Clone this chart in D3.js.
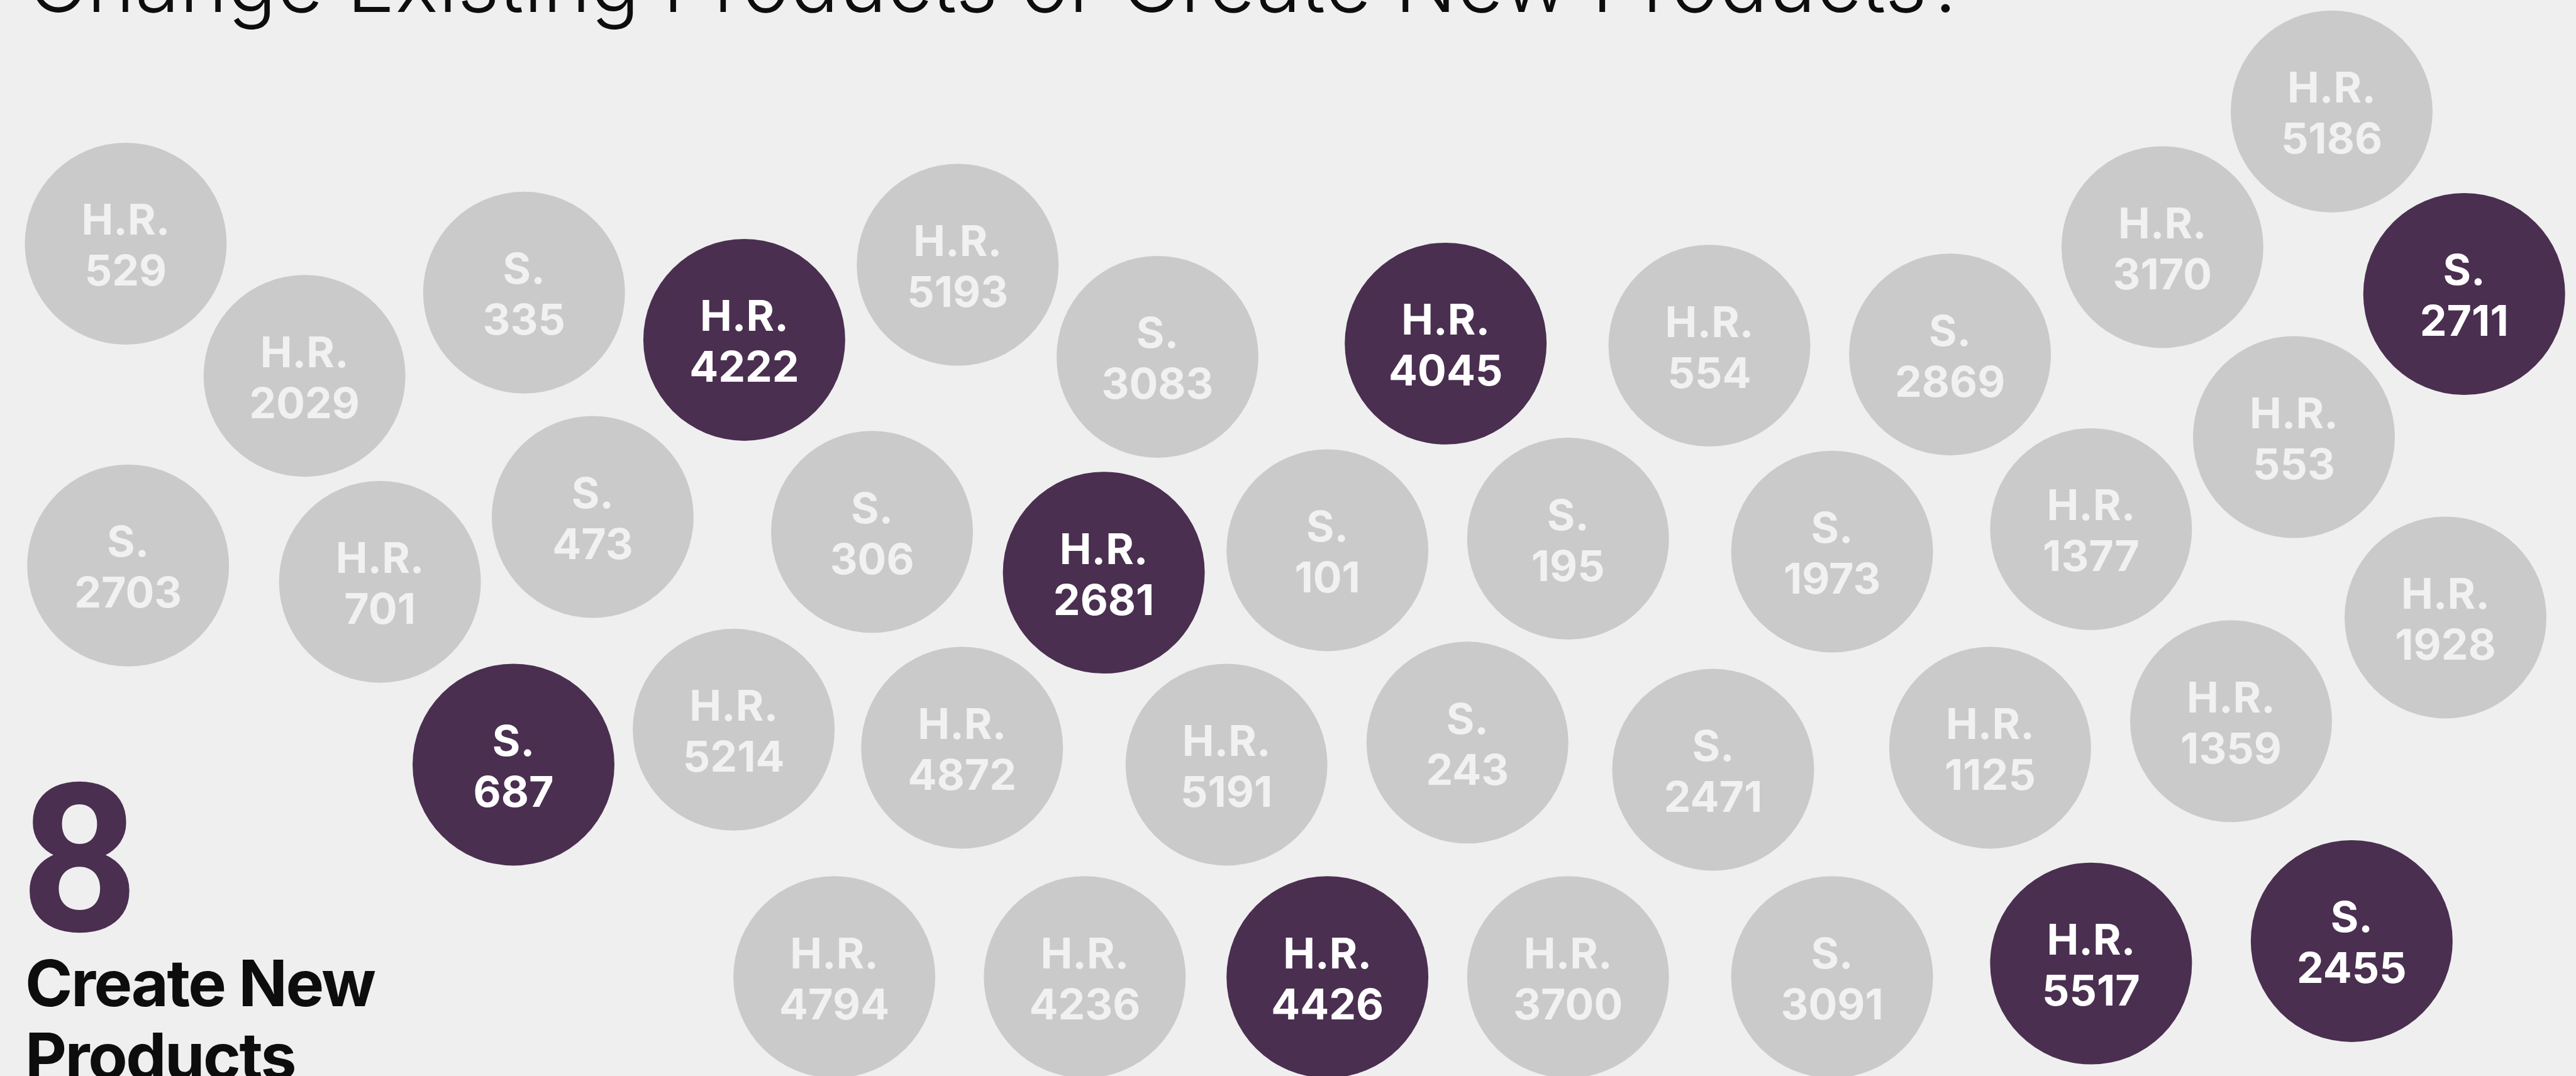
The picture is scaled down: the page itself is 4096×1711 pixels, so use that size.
<!DOCTYPE html>
<html>
<head>
<meta charset="utf-8">
<script src="https://cdn.jsdelivr.net/npm/d3@7"></script>
<style>
  html, body { margin: 0; padding: 0; background: #efefef; overflow: hidden; }
  svg { display: block; }
</style>
</head>
<body>
<svg></svg>
<script>
// bills, in the order they are laid out (rows, left to right)
const chambers = [
  "H.R.", "H.R.", "S.", "H.R.", "H.R.", "S.", "H.R.", "H.R.", "S.", "H.R.", "H.R.", "S.", "H.R.",
  "S.", "H.R.", "S.", "S.", "H.R.", "S.", "S.", "S.", "H.R.", "H.R.",
  "S.", "H.R.", "H.R.", "H.R.", "S.", "S.", "H.R.", "H.R.",
  "H.R.", "H.R.", "H.R.", "H.R.", "S.", "H.R.", "S."
];
const billNumbers = [
  529, 2029, 335, 4222, 5193, 3083, 4045, 554, 2869, 3170, 5186, 2711, 553,
  2703, 701, 473, 306, 2681, 101, 195, 1973, 1377, 1928,
  687, 5214, 4872, 5191, 243, 2471, 1125, 1359,
  4794, 4236, 4426, 3700, 3091, 5517, 2455
];
const createsNew = [
  false, false, false, true, false, false, true, false, false, false, false, true, false,
  false, false, false, false, true, false, false, false, false, false,
  true, false, false, false, false, false, false, false,
  false, false, true, false, false, true, true
];
// layout position of each bubble, in the units of the original 7580 x 3166 artboard
const layoutX = [
  370, 896, 1542, 2190, 2818, 3406, 4254, 5030, 5738, 6363, 6861, 7251, 6750,
  377, 1118, 1744, 2566, 3248, 3906, 4614, 5391, 6153, 7196,
  1511, 2159, 2831, 3609, 4318, 5041, 5856, 6565,
  2455, 3192, 3906, 4614, 5391, 6153, 6920
];
const layoutY = [
  717, 1106, 861, 1000, 779, 1050, 1011, 1017, 1043, 727, 328, 865, 1286,
  1664, 1712, 1521, 1565, 1685, 1619, 1585, 1623, 1557, 1817,
  2250, 2147, 2200, 2250, 2185, 2265, 2200, 2122,
  2875, 2875, 2875, 2875, 2875, 2835, 2769
];
const bubbleSize = 297;

const titleText = "Change Existing Products or Create New Products?";
const captionLines = ["Create New", "Products"];

const width = 4096;
const height = 1711;
const fontFamily = "Inter, 'Noto Sans', sans-serif";

const colors = {
  background: "#efefef",
  existing: "#cacaca",
  existingText: "#f1f1f1",
  created: "#4a2f50",
  createdText: "#ffffff",
  ink: "#0d0d0d"
};

const svg = d3.select("svg")
  .attr("width", width)
  .attr("height", height);

const xScale = d3.scaleLinear().domain([0, 7580]).range([0, width]);
const yScale = d3.scaleLinear().domain([0, 3166]).range([0, height]);

const bills = billNumbers.map((num, i) => ({
  chamber: chambers[i],
  number: num,
  isNew: createsNew[i],
  x: layoutX[i],
  y: layoutY[i]
}));

const drawBackground = () => {
  svg.append("rect")
     .attr("width", width)
     .attr("height", height)
     .attr("fill", colors.background);
};

const drawTitle = () => {
  const title = svg.append("text")
    .attr("x", 44)
    .attr("y", 19)
    .attr("font-family", fontFamily)
    .attr("font-weight", 300)
    .attr("font-size", 130)
    .attr("fill", colors.ink)
    .text(titleText);

  // fit the title to the width it takes in the original
  const w = title.node().getComputedTextLength();
  title.attr("font-size", 130 * 3085 / w);
};

const drawBubbles = () => {
  const r = xScale(bubbleSize) - xScale(0);

  const g = svg.selectAll("g.bill")
    .data(bills)
    .enter()
    .append("g")
    .attr("class", "bill")
    .attr("transform", d => "translate(" + xScale(d.x) + "," + yScale(d.y) + ")");

  g.append("circle")
   .attr("r", r)
   .attr("fill", d => d.isNew ? colors.created : colors.existing);

  const label = g.append("text")
    .attr("text-anchor", "middle")
    .attr("font-family", fontFamily)
    .attr("font-weight", 700)
    .attr("font-size", 68)
    .attr("fill", d => d.isNew ? colors.createdText : colors.existingText);

  label.append("tspan")
       .attr("x", 0)
       .attr("y", -14)
       .text(d => d.chamber);

  label.append("tspan")
       .attr("x", 0)
       .attr("y", 67)
       .text(d => d.number);
};

const drawCount = () => {
  const count = createsNew.filter(d => d).length;

  svg.append("text")
     .attr("x", 32)
     .attr("y", 1480)
     .attr("font-family", "Roboto, " + fontFamily)
     .attr("font-weight", 700)
     .attr("font-size", 329)
     .attr("fill", colors.created)
     .text(count);

  svg.append("g")
     .selectAll("text")
     .data(captionLines)
     .enter()
     .append("text")
     .attr("x", 40)
     .attr("y", (d, i) => 1600 + i * 116)
     .attr("font-family", fontFamily)
     .attr("font-weight", 700)
     .attr("font-size", 102)
     .attr("letter-spacing", -2.5)
     .attr("fill", colors.ink)
     .text(d => d);
};

drawBackground();
drawTitle();
drawBubbles();
drawCount();
</script>
</body>
</html>
